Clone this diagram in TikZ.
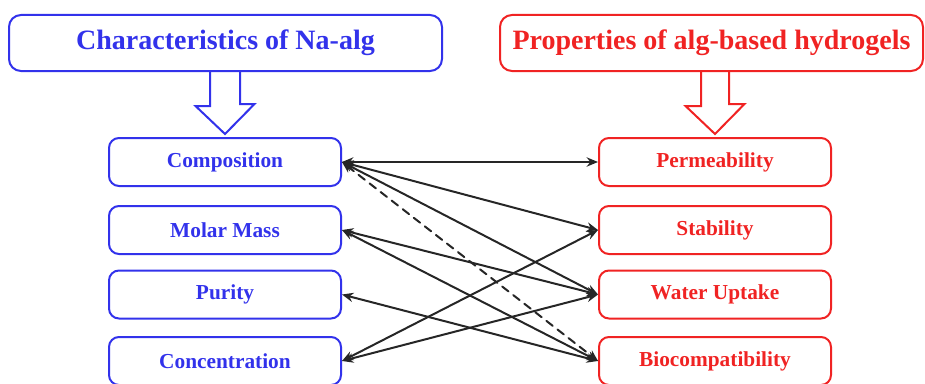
\documentclass[tikz,border=0pt]{standalone}
\usepackage{fontspec}
\setmainfont{Liberation Serif}
\usetikzlibrary{arrows.meta,calc}
\definecolor{algblue}{RGB}{50,50,235}
\definecolor{algred}{RGB}{240,35,35}

\begin{document}
\begin{tikzpicture}[x=0.75pt,y=0.75pt,>={Stealth[length=8.5pt,width=7pt]},line cap=round,
  head/.style={draw,line width=1.5pt,rounded corners=9pt,minimum width=#1,minimum height=42pt,font=\fontsize{21}{24}\selectfont\bfseries},
  item/.style={draw,line width=1.5pt,rounded corners=7.5pt,minimum width=174pt,minimum height=36pt,font=\fontsize{16}{19}\selectfont\bfseries},
  link/.style={<->,line width=1.5pt,black!85},
  hollow/.style={line width=1.5pt,line join=miter,line cap=butt}]
\useasboundingbox (0,0) rectangle (925,383);
\node[head=324.75pt,algblue] (naalg) at (225.5,340) {Characteristics of Na-alg};
\node[head=317.25pt,algred] (hydro) at (711.5,340) {Properties of alg-based hydrogels};
\node[item,algblue] (comp) at (225,221) {Composition};
\node[item,algblue] (mass) at (225,153) {Molar Mass};
\node[item,algblue] (pur) at (225,88.5) {Purity};
\node[item,algblue] (conc) at (225,22) {Concentration};
\node[item,algred] (perm) at (715,221) {Permeability};
\node[item,algred] (stab) at (715,153) {Stability};
\node[item,algred] (wat) at (715,88.5) {Water Uptake};
\node[item,algred] (bio) at (715,22) {Biocompatibility};
\draw[hollow,algblue] (naalg.south -| comp.north) ++(-15,0) -- ++(0,-34) -- ++(-14.5,0) -- ($(comp.north)+(0,3)$) -- ++(29.5,30) -- ++(-14.5,0) -- ++(0,34);
\draw[hollow,algred] (hydro.south -| perm.north) ++(-14,0) -- ++(0,-34) -- ++(-15.5,0) -- ($(perm.north)+(0,3)$) -- ++(29.5,30) -- ++(-15.5,0) -- ++(0,34);
\draw[link] (comp.east) -- (perm.west);
\draw[link] (comp.east) -- (stab.west);
\draw[link] (comp.east) -- (wat.west);
\draw[link,dash pattern=on 6pt off 4.5pt] (comp.east) -- (bio.west);
\draw[link] (mass.east) -- (wat.west);
\draw[link] (mass.east) -- (bio.west);
\draw[link] (pur.east) -- (bio.west);
\draw[link] (conc.east) -- (stab.west);
\draw[link] (conc.east) -- (wat.west);
\end{tikzpicture}
\end{document}
